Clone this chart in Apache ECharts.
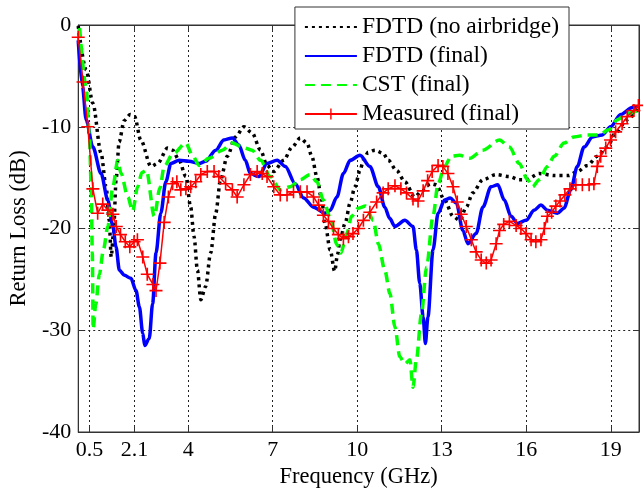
<!DOCTYPE html>
<html>
<head>
<meta charset="utf-8">
<script src="https://cdn.jsdelivr.net/npm/echarts@6/dist/echarts.min.js"></script>
<style>
  html, body { margin: 0; background: #fff; }
  #main { width: 643px; height: 494px; }
</style>
</head>
<body>
<div id="main"></div>
<script>
// tick positions (GHz)
const xTicks = [0.5, 2.1, 4, 7, 10, 13, 16, 19];

// FDTD (no airbridge)
const noBridgeFreq = [0.1, 0.38, 0.62, 0.91, 1.09, 1.2, 1.27, 1.35, 1.45, 1.55, 1.73, 1.95, 2.1, 2.32, 2.68, 2.92, 3.27, 3.45, 3.68, 3.92, 4.09, 4.21, 4.33, 4.45, 4.62, 4.8, 4.98, 5.15, 5.39, 5.68, 5.98, 6.27, 6.57, 6.8, 7.04, 7.39, 7.69, 7.98, 8.22, 8.39, 8.57, 8.74, 8.86, 9.04, 9.2, 9.3, 9.39, 9.57, 9.75, 9.92, 10.1, 10.22, 10.39, 10.63, 10.92, 11.1, 11.4, 11.69, 12.04, 12.3, 12.6, 12.8, 13.1, 13.4, 13.64, 13.87, 14.1, 14.46, 14.93, 15.4, 15.75, 16.0, 16.46, 17.0, 17.5, 17.81, 18.17, 18.52, 18.87, 19.17, 19.58, 19.97];
const noBridgeLoss = [-0.1, -4.4, -7.7, -12.6, -15.9, -19.2, -22.8, -20.5, -15.0, -11.5, -9.4, -8.8, -9.0, -11.3, -13.9, -13.6, -12.1, -12.3, -13.3, -14.9, -17.9, -20.8, -24.1, -27.0, -25.7, -22.4, -18.5, -15.2, -12.9, -11.0, -10.0, -10.6, -12.3, -13.8, -14.4, -13.3, -12.0, -11.1, -11.6, -12.9, -14.9, -17.2, -19.5, -22.1, -24.2, -22.6, -21.1, -19.5, -17.5, -15.9, -14.3, -13.3, -12.5, -12.3, -12.6, -13.3, -14.3, -15.4, -16.9, -16.3, -15.6, -15.7, -17.2, -18.8, -19.2, -17.9, -16.5, -15.2, -14.7, -14.9, -15.2, -15.2, -14.6, -14.8, -14.8, -14.4, -13.8, -12.9, -12.0, -10.6, -9.3, -8.2];

// FDTD (final)
const fdtdFreq = [0.1, 0.25, 0.38, 0.62, 0.91, 1.15, 1.33, 1.44, 1.56, 1.74, 1.97, 2.15, 2.27, 2.39, 2.46, 2.62, 2.74, 2.86, 3.03, 3.21, 3.39, 3.68, 4.03, 4.39, 4.62, 4.98, 5.27, 5.57, 5.8, 6.03, 6.21, 6.51, 6.8, 7.16, 7.45, 7.8, 8.1, 8.45, 8.86, 9.04, 9.28, 9.51, 9.75, 10.1, 10.45, 10.75, 10.98, 11.15, 11.34, 11.69, 11.98, 12.1, 12.22, 12.34, 12.42, 12.51, 12.69, 12.87, 13.1, 13.3, 13.52, 13.75, 13.93, 14.22, 14.46, 14.75, 14.99, 15.22, 15.46, 15.69, 15.99, 16.28, 16.52, 16.75, 17.1, 17.34, 17.58, 17.81, 18.05, 18.35, 18.7, 18.99, 19.35, 19.76, 19.97];
const fdtdLoss = [-1.5, -6.0, -9.3, -12.0, -14.6, -17.2, -19.8, -21.8, -24.1, -24.6, -24.9, -26.1, -27.7, -30.3, -31.5, -30.8, -27.4, -22.4, -18.5, -15.4, -13.6, -13.3, -13.4, -13.6, -13.4, -12.3, -11.3, -11.1, -11.8, -13.3, -14.6, -14.9, -13.6, -13.3, -13.9, -15.6, -17.0, -17.9, -18.5, -18.2, -16.9, -14.6, -13.3, -12.8, -13.9, -15.9, -17.9, -19.0, -19.8, -19.2, -19.8, -22.1, -25.4, -28.7, -31.3, -28.7, -22.1, -18.5, -17.2, -17.0, -17.5, -20.2, -21.5, -20.5, -17.9, -15.9, -15.7, -17.2, -18.8, -19.5, -19.2, -18.2, -17.7, -18.2, -18.5, -18.0, -16.2, -13.9, -12.0, -11.0, -10.8, -10.0, -8.8, -8.1, -8.0];

// CST (final)
const cstFreq = [0.15, 0.38, 0.5, 0.56, 0.6, 0.63, 0.72, 0.85, 1.0, 1.15, 1.33, 1.5, 1.62, 1.86, 2.03, 2.21, 2.36, 2.52, 2.8, 3.0, 3.15, 3.45, 3.92, 4.15, 4.39, 4.74, 5.21, 5.57, 5.92, 6.27, 6.57, 6.92, 7.27, 7.62, 7.98, 8.33, 8.57, 8.8, 9.04, 9.28, 9.42, 9.63, 9.8, 10.04, 10.3, 10.57, 10.75, 10.98, 11.16, 11.34, 11.51, 11.69, 11.87, 11.98, 12.1, 12.28, 12.46, 12.69, 12.87, 13.1, 13.34, 13.63, 13.99, 14.46, 15.05, 15.4, 15.75, 16.05, 16.22, 16.46, 16.75, 16.99, 17.34, 17.69, 18.17, 18.58, 18.93, 19.23, 19.58, 19.97];
const cstLoss = [-0.3, -6.1, -11.0, -15.9, -22.4, -29.9, -27.5, -24.5, -22.0, -19.8, -15.9, -13.3, -14.6, -16.9, -18.3, -15.9, -14.5, -14.3, -18.8, -16.0, -13.9, -12.7, -11.6, -12.8, -13.8, -13.1, -12.3, -11.6, -12.0, -12.3, -13.3, -14.9, -16.2, -15.9, -15.2, -14.7, -15.4, -17.2, -18.9, -21.6, -22.4, -20.5, -18.8, -18.0, -17.8, -19.2, -21.5, -24.1, -26.4, -29.7, -32.6, -33.3, -32.9, -35.6, -32.9, -28.4, -23.8, -18.8, -15.6, -13.9, -12.9, -12.8, -13.1, -12.3, -11.3, -12.0, -13.6, -15.2, -15.9, -15.2, -13.9, -12.9, -11.6, -11.0, -10.8, -10.8, -10.3, -9.3, -8.7, -8.4];

// Measured (final)
const measFreq = [0.1, 0.27, 0.44, 0.62, 0.79, 0.97, 1.15, 1.33, 1.45, 1.6, 1.77, 1.93, 2.08, 2.2, 2.39, 2.55, 2.75, 2.86, 3.0, 3.15, 3.3, 3.45, 3.6, 3.74, 3.92, 4.09, 4.27, 4.45, 4.68, 4.92, 5.09, 5.33, 5.57, 5.74, 5.98, 6.21, 6.45, 6.63, 6.8, 7.04, 7.27, 7.51, 7.74, 7.98, 8.22, 8.45, 8.63, 8.8, 8.98, 9.16, 9.33, 9.51, 9.69, 9.85, 10.04, 10.22, 10.45, 10.69, 10.92, 11.1, 11.34, 11.55, 11.75, 11.98, 12.16, 12.34, 12.5, 12.66, 12.87, 13.04, 13.22, 13.4, 13.55, 13.69, 13.87, 14.05, 14.22, 14.4, 14.58, 14.75, 14.93, 15.05, 15.2, 15.4, 15.64, 15.81, 15.99, 16.17, 16.34, 16.52, 16.64, 16.75, 16.9, 17.05, 17.2, 17.37, 17.55, 17.76, 17.99, 18.23, 18.4, 18.52, 18.64, 18.82, 18.99, 19.17, 19.4, 19.58, 19.82, 19.98];
const measLoss = [-1.2, -5.6, -10.0, -16.1, -18.5, -17.6, -18.2, -18.6, -19.8, -20.6, -21.3, -21.8, -21.3, -21.1, -22.8, -24.5, -25.5, -26.1, -23.4, -19.4, -16.9, -15.6, -15.4, -16.2, -16.1, -15.9, -15.4, -14.7, -14.4, -14.4, -14.9, -15.6, -16.2, -16.9, -15.7, -14.7, -14.4, -14.6, -14.9, -15.9, -16.7, -16.7, -16.4, -16.4, -16.4, -16.9, -17.7, -18.7, -19.3, -20.0, -20.6, -21.0, -20.8, -20.5, -20.0, -19.2, -18.4, -17.4, -16.5, -16.1, -15.8, -16.1, -16.5, -17.1, -17.3, -16.3, -15.3, -14.4, -13.8, -13.9, -14.6, -15.9, -17.4, -18.6, -19.8, -21.1, -22.3, -23.1, -23.4, -23.1, -21.5, -20.2, -19.6, -19.3, -19.7, -20.0, -20.5, -21.1, -21.3, -21.1, -20.0, -18.8, -18.4, -17.8, -17.3, -16.7, -16.1, -15.7, -15.7, -15.7, -15.6, -13.9, -12.9, -12.1, -11.3, -10.5, -9.7, -9.0, -8.4, -7.9];

const zip = (xs, ys) => xs.map((x, i) => [x, ys[i]]);

const serif = '"Liberation Serif", "Times New Roman", serif';
const axisColor = '#333';
const plusIcon = 'path://M7,0h2v7h7v2h-7v7h-2v-7h-7v-2h7z';

const gridLine = { show: true, lineStyle: { type: [2, 3], color: '#222', width: 1 } };
// legend rows for the plain lines carry no marker
const noMarker = { opacity: 0 };

const chart = echarts.init(document.getElementById('main'));
chart.setOption({
  animation: false,
  grid: { left: 77, right: 4, top: 25, bottom: 62, show: true, borderColor: axisColor, borderWidth: 1 },
  legend: {
    orient: 'vertical',
    right: 74,
    top: 7,
    align: 'left',
    itemWidth: 52,
    itemHeight: 14,
    itemGap: 5,
    padding: [8, 10, 3, 9],
    borderColor: axisColor,
    borderWidth: 1,
    backgroundColor: '#fff',
    textStyle: { fontFamily: serif, fontSize: 23.5, lineHeight: 24, color: '#000' },
    data: [
      { name: 'FDTD (no airbridge)', itemStyle: noMarker },
      { name: 'FDTD (final)', itemStyle: noMarker },
      { name: 'CST (final)', itemStyle: noMarker },
      { name: 'Measured (final)' }
    ]
  },
  xAxis: [{
    type: 'value',
    min: 0.1,
    max: 20,
    name: 'Frequency (GHz)',
    nameLocation: 'middle',
    nameGap: 30,
    nameTextStyle: { fontFamily: serif, fontSize: 22.5, color: '#000' },
    axisLine: { show: true, onZero: false, lineStyle: { color: axisColor } },
    axisTick: { inside: true, length: 6, customValues: xTicks, lineStyle: { color: axisColor } },
    axisLabel: { customValues: xTicks, fontFamily: serif, fontSize: 22, color: '#000', margin: 7 },
    splitLine: gridLine
  }, {
    type: 'value',
    min: 0.1,
    max: 20,
    position: 'top',
    axisLine: { show: true, onZero: false, lineStyle: { color: axisColor } },
    axisTick: { inside: true, length: 6, customValues: xTicks, lineStyle: { color: axisColor } },
    axisLabel: { show: false },
    splitLine: { show: false }
  }],
  yAxis: [{
    type: 'value',
    min: -40,
    max: 0,
    interval: 10,
    name: 'Return Loss (dB)',
    nameLocation: 'middle',
    nameGap: 45,
    nameRotate: 90,
    nameTextStyle: { fontFamily: serif, fontSize: 22.5, color: '#000' },
    axisLine: { show: true, onZero: false, lineStyle: { color: axisColor } },
    axisTick: { show: true, inside: true, length: 6, lineStyle: { color: axisColor } },
    axisLabel: { fontFamily: serif, fontSize: 22, color: '#000', margin: 7 },
    splitLine: gridLine
  }, {
    type: 'value',
    min: -40,
    max: 0,
    interval: 10,
    position: 'right',
    axisLine: { show: true, onZero: false, lineStyle: { color: axisColor } },
    axisTick: { show: true, inside: true, length: 6, lineStyle: { color: axisColor } },
    axisLabel: { show: false },
    splitLine: { show: false }
  }],
  series: [{
    name: 'FDTD (no airbridge)',
    type: 'line',
    data: zip(noBridgeFreq, noBridgeLoss),
    symbol: 'none',
    smooth: 0.3,
    smoothMonotone: 'x',
    lineStyle: { color: '#000', width: 3.5, type: [3, 4], cap: 'butt' },
    itemStyle: { color: '#000' }
  }, {
    name: 'FDTD (final)',
    type: 'line',
    data: zip(fdtdFreq, fdtdLoss),
    symbol: 'none',
    smooth: 0.3,
    smoothMonotone: 'x',
    lineStyle: { color: '#0000ff', width: 3.5 },
    itemStyle: { color: '#0000ff' }
  }, {
    name: 'CST (final)',
    type: 'line',
    data: zip(cstFreq, cstLoss),
    symbol: 'none',
    smooth: 0.3,
    smoothMonotone: 'x',
    lineStyle: { color: '#00ff00', width: 3.5, type: [10, 6], cap: 'butt' },
    itemStyle: { color: '#00ff00' }
  }, {
    name: 'Measured (final)',
    type: 'line',
    data: zip(measFreq, measLoss),
    symbol: plusIcon,
    symbolSize: 13,
    showAllSymbol: true,
    lineStyle: { color: '#ff0000', width: 1.5 },
    itemStyle: { color: '#ff0000' }
  }]
});
</script>
</body>
</html>
